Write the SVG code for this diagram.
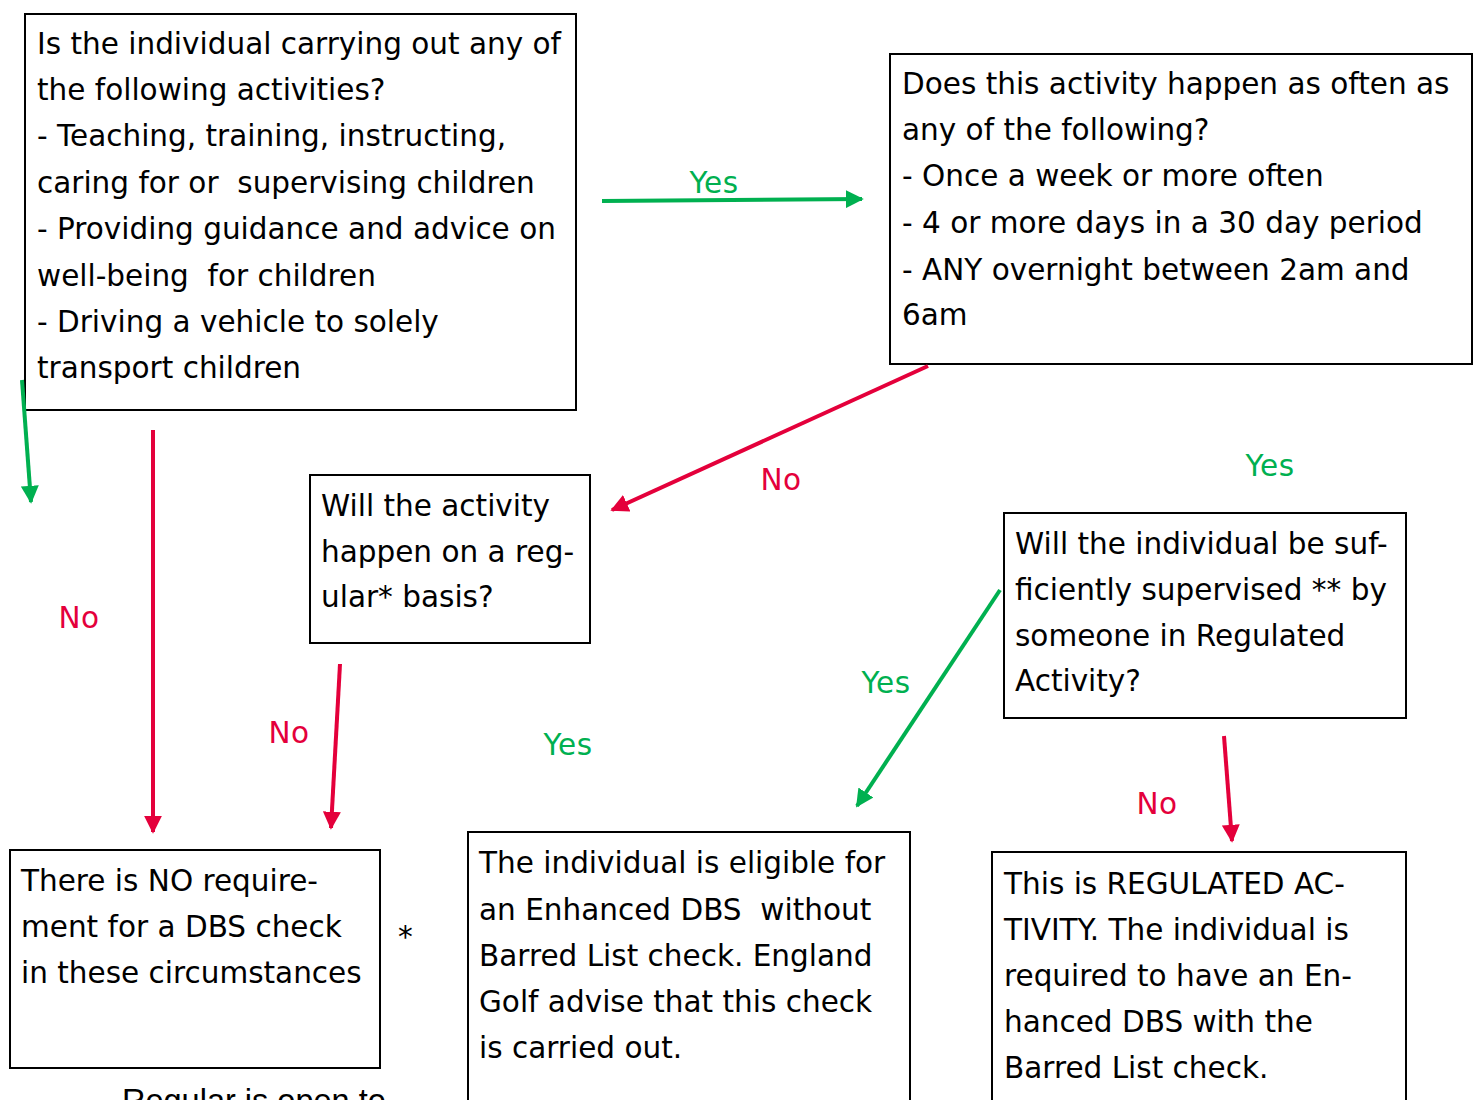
<svg xmlns="http://www.w3.org/2000/svg" width="1481" height="1100" viewBox="0 0 1481 1100">
<style>
.box{fill:#fff;stroke:#000;stroke-width:2}
.t{font-family:"DejaVu Sans",Verdana,sans-serif;font-size:29.5px;letter-spacing:0px;fill:#000;white-space:pre}
.lbl{font-family:"DejaVu Sans",Verdana,sans-serif;font-size:29.5px;letter-spacing:0.5px;text-anchor:middle}
.g{fill:#00B050}
.r{fill:#E4003B}
.lg{stroke:#00B050;stroke-width:4;fill:none}
.lr{stroke:#E4003B;stroke-width:4;fill:none}
</style>
<defs>
<marker id="ag" viewBox="0 0 10 10" refX="9" refY="5" markerWidth="4.5" markerHeight="4.5" orient="auto" markerUnits="strokeWidth"><path d="M0,0 L10,5 L0,10 z" fill="#00B050"/></marker>
<marker id="ar" viewBox="0 0 10 10" refX="9" refY="5" markerWidth="4.5" markerHeight="4.5" orient="auto" markerUnits="strokeWidth"><path d="M0,0 L10,5 L0,10 z" fill="#E4003B"/></marker>
</defs>
<rect width="1481" height="1100" fill="#fff"/>
<g id="node-activities">
<rect class="box" x="25" y="14" width="551" height="396"/>
<text class="t" x="37" y="54">Is the individual carrying out any of</text>
<text class="t" x="37" y="100">the following activities?</text>
<text class="t" x="37" y="146">- Teaching, training, instructing,</text>
<text class="t" x="37" y="193">caring for or  supervising children</text>
<text class="t" x="37" y="239">- Providing guidance and advice on</text>
<text class="t" x="37" y="286">well-being  for children</text>
<text class="t" x="37" y="332">- Driving a vehicle to solely</text>
<text class="t" x="37" y="378">transport children</text>
</g>
<g id="node-frequency">
<rect class="box" x="890" y="54" width="582" height="310"/>
<text class="t" x="902" y="94">Does this activity happen as often as</text>
<text class="t" x="902" y="140">any of the following?</text>
<text class="t" x="902" y="186">- Once a week or more often</text>
<text class="t" x="902" y="233">- 4 or more days in a 30 day period</text>
<text class="t" x="902" y="280">- ANY overnight between 2am and</text>
<text class="t" x="902" y="325">6am</text>
</g>
<g id="node-regular">
<rect class="box" x="310" y="475" width="280" height="168"/>
<text class="t" x="321" y="516">Will the activity</text>
<text class="t" x="321" y="562">happen on a reg-</text>
<text class="t" x="321" y="607">ular* basis?</text>
</g>
<g id="node-supervised">
<rect class="box" x="1004" y="513" width="402" height="205"/>
<text class="t" x="1015" y="554">Will the individual be suf-</text>
<text class="t" x="1015" y="600">ficiently supervised ** by</text>
<text class="t" x="1015" y="646">someone in Regulated</text>
<text class="t" x="1015" y="691">Activity?</text>
</g>
<g id="node-no-requirement">
<rect class="box" x="10" y="850" width="370" height="218"/>
<text class="t" x="21" y="891">There is NO require-</text>
<text class="t" x="21" y="937">ment for a DBS check</text>
<text class="t" x="21" y="983">in these circumstances</text>
</g>
<g id="node-enhanced">
<rect class="box" x="468" y="832" width="442" height="290"/>
<text class="t" x="479" y="873">The individual is eligible for</text>
<text class="t" x="479" y="920">an Enhanced DBS  without</text>
<text class="t" x="479" y="966">Barred List check. England</text>
<text class="t" x="479" y="1012">Golf advise that this check</text>
<text class="t" x="479" y="1058">is carried out.</text>
</g>
<g id="node-regulated">
<rect class="box" x="992" y="852" width="414" height="270"/>
<text class="t" x="1004" y="894">This is REGULATED AC-</text>
<text class="t" x="1004" y="940">TIVITY. The individual is</text>
<text class="t" x="1004" y="986">required to have an En-</text>
<text class="t" x="1004" y="1032">hanced DBS with the</text>
<text class="t" x="1004" y="1078">Barred List check.</text>
</g>
<g id="connectors">
<line class="lg" x1="602" y1="201" x2="862" y2="199" marker-end="url(#ag)"/>
<line class="lg" x1="22" y1="380" x2="31" y2="502" marker-end="url(#ag)"/>
<line class="lr" x1="153" y1="430" x2="153" y2="832" marker-end="url(#ar)"/>
<line class="lr" x1="928" y1="366" x2="612" y2="510" marker-end="url(#ar)"/>
<line class="lr" x1="340" y1="664" x2="331" y2="828" marker-end="url(#ar)"/>
<line class="lg" x1="1000" y1="590" x2="857" y2="806" marker-end="url(#ag)"/>
<line class="lr" x1="1224" y1="736" x2="1232" y2="841" marker-end="url(#ar)"/>
</g>
<g id="labels">
<text class="lbl g" x="714" y="193">Yes</text>
<text class="lbl r" x="781" y="490">No</text>
<text class="lbl g" x="1270" y="476">Yes</text>
<text class="lbl r" x="79" y="628">No</text>
<text class="lbl r" x="289" y="743">No</text>
<text class="lbl g" x="568" y="755">Yes</text>
<text class="lbl g" x="886" y="693">Yes</text>
<text class="lbl r" x="1157" y="814">No</text>
<text class="t" x="398" y="947">*</text>
<text x="122" y="1112" style="font-family:'Liberation Sans',Arial,sans-serif;font-size:32.5px;fill:#000">Regular is open to</text>
</g>
</svg>
